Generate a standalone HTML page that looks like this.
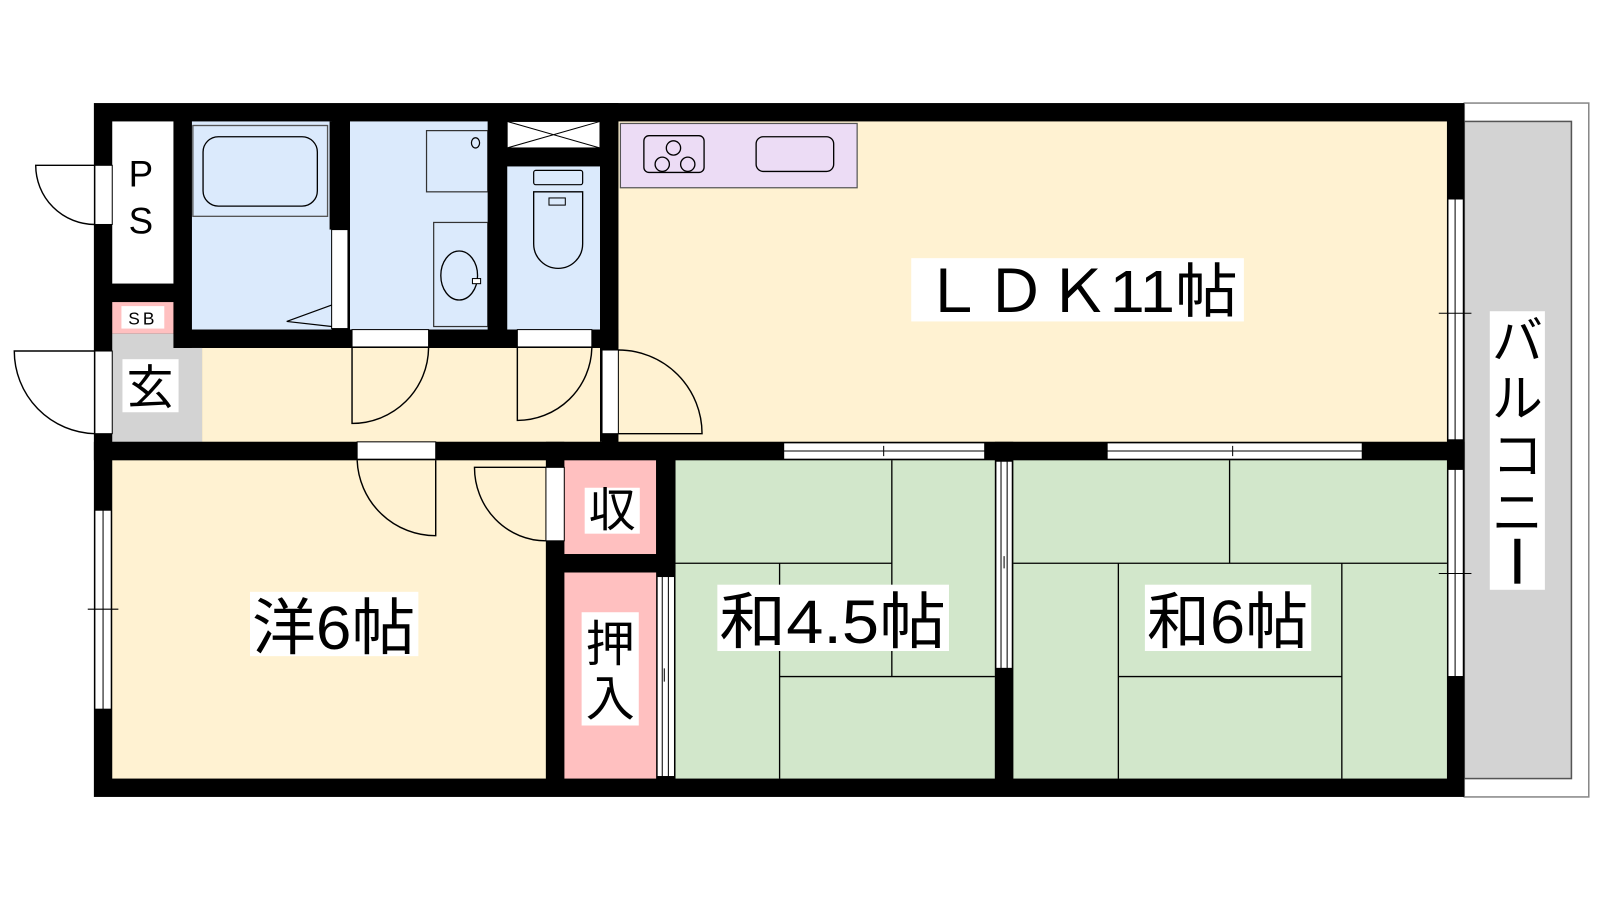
<!DOCTYPE html>
<html><head><meta charset="utf-8"><style>
html,body{margin:0;padding:0;background:#fff;}
svg{display:block;}
text{font-family:"Liberation Sans","Noto Sans CJK JP",sans-serif;fill:#000;}
</style></head><body>
<svg width="1600" height="900" viewBox="0 0 1568 882" preserveAspectRatio="none" xmlns="http://www.w3.org/2000/svg">
<rect width="1568" height="882" fill="#fff"/>
<!-- balcony -->
<rect x="1435" y="101" width="122" height="680" fill="#fff" stroke="#888" stroke-width="1.5"/>
<rect x="1435" y="119" width="105" height="644" fill="#d3d3d3" stroke="#555" stroke-width="1.5"/>
<!-- outer wall -->
<rect x="92" y="101" width="1343" height="680" fill="#000"/>
<!-- rooms -->
<rect x="110" y="119" width="60" height="159" fill="#fff"/>
<rect x="110" y="296" width="60" height="31" fill="#ffc0c0"/>
<rect x="110" y="327" width="88" height="106" fill="#d3d3d3"/>
<rect x="188" y="119" width="137" height="204" fill="#dbeafc"/>
<rect x="343" y="119" width="135" height="204" fill="#dbeafc"/>
<rect x="497" y="163" width="91" height="160" fill="#dbeafc"/>
<rect x="497" y="119" width="91" height="26" fill="#fff" stroke="#000" stroke-width="1"/>
<path d="M497 119 L588 145 M588 119 L497 145" stroke="#000" stroke-width="1"/>
<rect x="198" y="341" width="392" height="92" fill="#fff2d2"/>
<rect x="606" y="119" width="812" height="314" fill="#fff2d2"/>
<rect x="110" y="451" width="425" height="312" fill="#fff2d2"/>
<rect x="553" y="451" width="90" height="92" fill="#ffc0c0"/>
<rect x="553" y="561" width="90" height="202" fill="#ffc0c0"/>
<rect x="662" y="451" width="313" height="312" fill="#d2e7cb"/>
<rect x="993" y="451" width="425" height="312" fill="#d2e7cb"/>
<!-- tatami -->
<g stroke="#000" stroke-width="1.3" fill="none">
<path d="M874 451 V663 M662 552 H874 M764 552 V763 M764 663 H975"/>
<path d="M1205 451 V552 M993 552 H1418 M1096 552 V763 M1315 552 V763 M1096 663 H1315"/>
</g>
<!-- kitchen -->
<rect x="608" y="121" width="232" height="63" fill="#ecdcf5" stroke="#555" stroke-width="1.2"/>
<rect x="631" y="133" width="59" height="36" rx="5" fill="none" stroke="#000" stroke-width="1.3"/>
<g fill="none" stroke="#000" stroke-width="1.3"><circle cx="660" cy="145" r="7"/><circle cx="649" cy="161" r="7"/><circle cx="674" cy="161" r="7"/></g>
<rect x="741" y="134" width="76" height="34" rx="7" fill="none" stroke="#000" stroke-width="1.3"/>
<!-- bath fixtures -->
<rect x="189" y="123" width="132" height="89" fill="none" stroke="#555" stroke-width="1.3"/>
<rect x="199" y="134" width="112" height="68" rx="15" fill="none" stroke="#000" stroke-width="1.3"/>
<rect x="418" y="128" width="60" height="60" fill="none" stroke="#333" stroke-width="1.2"/>
<ellipse cx="466" cy="140" rx="4" ry="5" fill="none" stroke="#000" stroke-width="1.2"/>
<rect x="425" y="218" width="53" height="102" fill="none" stroke="#333" stroke-width="1.2"/>
<ellipse cx="450" cy="270" rx="18" ry="24" fill="none" stroke="#000" stroke-width="1.3"/>
<rect x="463" y="273" width="8" height="5" fill="#fff" stroke="#000" stroke-width="1"/>
<rect x="523" y="167" width="48" height="14" rx="2" fill="none" stroke="#000" stroke-width="1.2"/>
<path d="M523 188 h48 v51 a24 24 0 0 1 -48 0 z" fill="none" stroke="#000" stroke-width="1.3"/>
<rect x="538" y="194" width="16" height="7" fill="none" stroke="#000" stroke-width="1"/>
<!-- bath door strip -->
<rect x="325" y="225" width="16" height="97" fill="#fff" stroke="#000" stroke-width="1"/>
<path d="M325 299 L281 315 L325 320" fill="none" stroke="#000" stroke-width="1.2"/>
<!-- inner walls -->
<g fill="#000">
<rect x="170" y="119" width="18" height="222"/>
<rect x="110" y="278" width="60" height="18"/>
<rect x="170" y="323" width="436" height="18"/>
<rect x="323" y="119" width="20" height="106"/>
<rect x="478" y="119" width="19" height="204"/>
<rect x="497" y="145" width="91" height="18"/>
<rect x="588" y="101" width="18" height="332"/>
<rect x="92" y="433" width="1343" height="18"/>
<rect x="535" y="433" width="18" height="330"/>
<rect x="553" y="543" width="109" height="18"/>
<rect x="643" y="451" width="19" height="110"/>
<rect x="975" y="433" width="18" height="330"/>
</g>
<!-- door openings (white with frames) -->
<g fill="#fff" stroke="#000" stroke-width="1">
<rect x="345" y="323" width="75" height="17"/>
<rect x="507" y="323" width="73" height="17"/>
<rect x="590" y="343" width="16" height="82"/>
<rect x="350" y="433" width="77" height="17"/>
<rect x="535" y="458" width="18" height="72"/>
<rect x="93" y="162" width="17" height="58"/>
<rect x="93" y="344" width="17" height="81"/>
</g>
<!-- windows -->
<g fill="#fff" stroke="#000" stroke-width="1">
<rect x="768" y="434" width="197" height="16"/><path d="M768 442 H965" />
<rect x="1085" y="434" width="250" height="16"/><path d="M1085 442 H1335"/>
<rect x="1419" y="195" width="15" height="236"/><path d="M1426 195 V431"/>
<rect x="1419" y="460" width="15" height="203"/><path d="M1426 460 V663"/>
<rect x="93" y="500" width="16" height="195"/><path d="M101 500 V695"/>
<rect x="644" y="565" width="17" height="196"/><path d="M649 565 V761 M655 565 V761"/>
<rect x="976" y="452" width="16" height="203"/><path d="M981 452 V655 M987 452 V655"/>
</g>
<g stroke="#000" stroke-width="1">
<path d="M866 437 V447 M1208 437 V447 M1410 307 H1442 M1410 562 H1442 M86 597 H116 M651 655 V668 M984 545 V557"/>
</g>
<!-- door swings -->
<g fill="none" stroke="#000" stroke-width="1.4">
<path d="M93 162 H35 A58 58 0 0 0 93 220"/>
<path d="M93 344 H14 A81 81 0 0 0 93 425"/>
<path d="M345 341 V415 A75 75 0 0 0 420 341"/>
<path d="M507 341 V412 A73 73 0 0 0 580 341"/>
<path d="M606 425 H688 A82 82 0 0 0 606 343"/>
<path d="M427 451 V525 A77 77 0 0 1 350 451"/>
<path d="M535 458 H465 A70 72 0 0 0 535 530"/>
</g>
<!-- labels -->
<text x="138" y="183" font-size="36" text-anchor="middle">P</text>
<text x="138" y="229" font-size="36" text-anchor="middle">S</text>
<rect x="119" y="300" width="42" height="22" fill="#fff"/>
<text x="140" y="318" font-size="17" text-anchor="middle" letter-spacing="3">SB</text>
<rect x="120" y="352" width="55" height="52" fill="#fff"/>
<text x="147" y="396" font-size="46" text-anchor="middle">玄</text>
<rect x="893" y="253" width="326" height="62" fill="#fff"/>
<text x="903" y="306" font-size="58" textLength="310" lengthAdjust="spacingAndGlyphs">ＬＤＫ11帖</text>
<rect x="245" y="580" width="165" height="63" fill="#fff"/>
<text x="247" y="636" font-size="60" textLength="160" lengthAdjust="spacingAndGlyphs">洋6帖</text>
<rect x="703" y="573" width="227" height="65" fill="#fff"/>
<text x="705" y="630" font-size="60" textLength="222" lengthAdjust="spacingAndGlyphs">和4.5帖</text>
<rect x="1122" y="573" width="163" height="65" fill="#fff"/>
<text x="1124" y="630" font-size="60" textLength="158" lengthAdjust="spacingAndGlyphs">和6帖</text>
<rect x="573" y="478" width="54" height="45" fill="#fff"/>
<text x="600" y="516" font-size="46" text-anchor="middle">収</text>
<rect x="570" y="600" width="56" height="111" fill="#fff"/>
<text x="598" y="648" font-size="48" text-anchor="middle">押</text>
<text x="598" y="701" font-size="48" text-anchor="middle">入</text>
<rect x="1460" y="305" width="54" height="273" fill="#fff"/>
<text x="1487" y="352" font-size="50" text-anchor="middle">バ</text>
<text x="1487" y="408" font-size="50" text-anchor="middle">ル</text>
<text x="1487" y="464" font-size="50" text-anchor="middle">コ</text>
<text x="1487" y="520" font-size="50" text-anchor="middle">ニ</text>
<rect x="1484" y="528" width="6" height="44" fill="#000"/>
</svg>
</body></html>
